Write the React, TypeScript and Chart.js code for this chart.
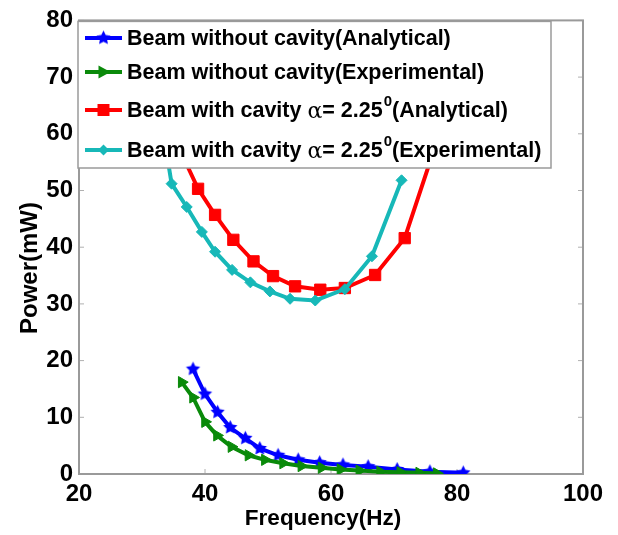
import React, { useEffect, useRef } from 'react';
import { Chart, registerables } from 'chart.js';

Chart.register(...registerables);

// ---- data ----
const seriesLabels = [
  'Beam without cavity(Analytical)',
  'Beam without cavity(Experimental)',
  'Beam with cavity α= 2.25⁰(Analytical)',
  'Beam with cavity α= 2.25⁰(Experimental)',
];
const seriesColors = ['#0000ff', '#0a8a0a', '#ff0000', '#17b8b8'];

const blueFreq = [38.1, 40.0, 42.0, 44.0, 46.4, 48.7, 51.6, 54.8, 58.2, 61.9, 65.9, 70.5, 75.7, 81.0];
const bluePower = [18.5, 14.1, 10.9, 8.2, 6.3, 4.5, 3.3, 2.5, 2.0, 1.6, 1.3, 0.8, 0.4, 0.2];

const greenFreq = [36.3, 38.1, 40.0, 41.9, 44.2, 46.9, 49.5, 52.4, 55.3, 58.5, 61.5, 64.5, 67.8, 71.0, 74.0, 76.8];
const greenPower = [16.2, 13.5, 9.2, 6.8, 4.8, 3.3, 2.5, 1.9, 1.4, 1.1, 0.8, 0.6, 0.4, 0.3, 0.2, 0.1];

const redFreq = [36.5, 38.9, 41.6, 44.5, 47.7, 50.8, 54.3, 58.3, 62.2, 67.0, 71.7, 76.0];
const redPower = [56, 50.3, 45.7, 41.3, 37.5, 34.9, 33.1, 32.5, 32.8, 35.1, 41.6, 56];

const cyanFreq = [34.0, 34.7, 37.1, 39.5, 41.6, 44.3, 47.2, 50.3, 53.5, 57.5, 62.2, 66.5, 71.2];
const cyanPower = [56, 51.2, 47.1, 42.7, 39.2, 36.0, 33.8, 32.2, 30.9, 30.6, 32.6, 38.4, 51.8];

const xTicks = [20, 40, 60, 80, 100];
const yTicks = [0, 10, 20, 30, 40, 50, 60, 70, 80];
const xTitle = 'Frequency(Hz)';
const yTitle = 'Power(mW)';

const FONT = '"Liberation Sans", Arial, sans-serif';

function zip(xs: number[], ys: number[]) {
  return xs.map((x, i) => ({ x, y: ys[i] }));
}

function makeStar(color: string, r: number): HTMLCanvasElement {
  const c = document.createElement('canvas');
  const s = Math.ceil(r * 2 + 2);
  c.width = s;
  c.height = s;
  const ctx = c.getContext('2d')!;
  ctx.beginPath();
  for (let i = 0; i < 10; i++) {
    const ang = -Math.PI / 2 + (i * Math.PI) / 5;
    const rr = i % 2 === 0 ? r : r * 0.5;
    ctx.lineTo(s / 2 + rr * Math.cos(ang), s / 2 + rr * Math.sin(ang));
  }
  ctx.closePath();
  ctx.fillStyle = color;
  ctx.fill();
  return c;
}

function drawMarker(ctx: CanvasRenderingContext2D, kind: number, x: number, y: number, color: string, star: HTMLCanvasElement) {
  ctx.save();
  ctx.fillStyle = color;
  ctx.beginPath();
  if (kind === 0) {
    ctx.drawImage(star, x - star.width / 2, y - star.height / 2);
  } else if (kind === 1) {
    ctx.moveTo(x + 7, y);
    ctx.lineTo(x - 5, y - 6.5);
    ctx.lineTo(x - 5, y + 6.5);
    ctx.closePath();
    ctx.fill();
  } else if (kind === 2) {
    ctx.rect(x - 6, y - 6, 12, 12);
    ctx.fill();
  } else {
    ctx.moveTo(x, y - 5.5);
    ctx.lineTo(x + 5.5, y);
    ctx.lineTo(x, y + 5.5);
    ctx.lineTo(x - 5.5, y);
    ctx.closePath();
    ctx.fill();
  }
  ctx.restore();
}

function drawRichLabel(ctx: CanvasRenderingContext2D, text: string, x: number, y: number) {
  const bold = 'bold 21.5px ' + FONT;
  let cx = x;
  let buf = '';
  const flush = () => {
    if (!buf) return;
    ctx.font = bold;
    ctx.fillText(buf, cx, y);
    cx += ctx.measureText(buf).width;
    buf = '';
  };
  for (const ch of text) {
    if (ch === 'α') {
      flush();
      ctx.font = '22px "DejaVu Serif", serif';
      ctx.fillText('α', cx, y + 1);
      cx += ctx.measureText('α').width;
    } else if (ch === '⁰') {
      flush();
      ctx.font = 'bold 15px ' + FONT;
      ctx.fillText('0', cx + 1, y - 9);
      cx += ctx.measureText('0').width + 1;
    } else {
      buf += ch;
    }
  }
  flush();
}

export default function App() {
  const ref = useRef<HTMLCanvasElement | null>(null);

  useEffect(() => {
    document.body.style.margin = '0';
    const canvas = ref.current!;
    const star = makeStar(seriesColors[0], 7.5);

    const framePlugin = {
      id: 'frame',
      beforeDatasetsDraw(chart: any) {
        const { ctx, chartArea: a } = chart;
        const xs = chart.scales.x;
        const ys = chart.scales.y;
        ctx.save();
        ctx.strokeStyle = '#b0b0b0';
        ctx.lineWidth = 1;
        ctx.beginPath();
        for (const v of xTicks) {
          const px = xs.getPixelForValue(v);
          ctx.moveTo(px, a.bottom);
          ctx.lineTo(px, a.bottom - 5);
          ctx.moveTo(px, a.top);
          ctx.lineTo(px, a.top + 5);
        }
        for (const v of yTicks) {
          const py = ys.getPixelForValue(v);
          ctx.moveTo(a.left, py);
          ctx.lineTo(a.left + 5, py);
          ctx.moveTo(a.right, py);
          ctx.lineTo(a.right - 5, py);
        }
        ctx.stroke();
        ctx.strokeStyle = '#9a9a9a';
        ctx.lineWidth = 2;
        ctx.strokeRect(a.left, a.top, a.right - a.left, a.bottom - a.top);
        ctx.restore();
      },
      afterDraw(chart: any) {
        const { ctx, chartArea: a } = chart;
        // axis titles
        ctx.save();
        ctx.font = 'bold 22.5px ' + FONT;
        ctx.fillStyle = '#000';
        ctx.textAlign = 'center';
        ctx.textBaseline = 'middle';
        ctx.fillText(xTitle, 323, 519);
        ctx.translate(30, 268);
        ctx.rotate(-Math.PI / 2);
        ctx.font = 'bold 24px ' + FONT;
        ctx.fillText(yTitle, 0, 0);
        ctx.restore();

        // legend box
        ctx.save();
        const lx = a.left - 1;
        const ly = a.top + 1;
        const lw = 551 - lx;
        const lh = 168 - ly;
        ctx.fillStyle = '#ffffff';
        ctx.fillRect(lx, ly, lw, lh);
        ctx.strokeStyle = '#9a9a9a';
        ctx.lineWidth = 1.5;
        ctx.strokeRect(lx, ly, lw, lh);
        const rowsY = [38, 72, 110, 150];
        seriesLabels.forEach((lab, i) => {
          const y = rowsY[i];
          ctx.strokeStyle = seriesColors[i];
          ctx.lineWidth = 4;
          ctx.beginPath();
          ctx.moveTo(85, y);
          ctx.lineTo(122, y);
          ctx.stroke();
          drawMarker(ctx, i, 103.5, y, seriesColors[i], star);
          ctx.fillStyle = '#000';
          ctx.textAlign = 'left';
          ctx.textBaseline = 'middle';
          drawRichLabel(ctx, lab, 127, y + 1);
        });
        ctx.restore();
      },
    };

    const chart = new Chart(canvas, {
      type: 'line',
      data: {
        datasets: [
          {
            label: seriesLabels[0],
            data: zip(blueFreq, bluePower),
            borderColor: seriesColors[0],
            backgroundColor: seriesColors[0],
            borderWidth: 4,
            pointStyle: star as any,
            pointRadius: 7,
            order: 3,
          },
          {
            label: seriesLabels[1],
            data: zip(greenFreq, greenPower),
            borderColor: seriesColors[1],
            backgroundColor: seriesColors[1],
            borderWidth: 4,
            pointStyle: 'triangle',
            pointRotation: 90,
            pointRadius: 6.5,
            pointBorderWidth: 1,
            order: 2,
          },
          {
            label: seriesLabels[2],
            data: zip(redFreq, redPower),
            borderColor: seriesColors[2],
            backgroundColor: seriesColors[2],
            borderWidth: 4,
            pointStyle: 'rect',
            pointRadius: 8,
            pointBorderWidth: 1,
            order: 1,
          },
          {
            label: seriesLabels[3],
            data: zip(cyanFreq, cyanPower),
            borderColor: seriesColors[3],
            backgroundColor: seriesColors[3],
            borderWidth: 4,
            pointStyle: 'rectRot',
            pointRadius: 5.5,
            pointBorderWidth: 1,
            order: 0,
          },
        ],
      },
      options: {
        animation: false,
        responsive: false,
        devicePixelRatio: 1,
        layout: { padding: { top: 17, right: 35, left: 0, bottom: 0 } },
        plugins: {
          legend: { display: false },
          tooltip: { enabled: false },
        },
        elements: { line: { tension: 0 } },
        scales: {
          x: {
            type: 'linear',
            min: 20,
            max: 100,
            afterBuildTicks: (axis: any) => {
              axis.ticks = xTicks.map((v) => ({ value: v }));
            },
            afterFit: (axis: any) => {
              axis.height = 61;
            },
            grid: { display: false, drawTicks: false },
            border: { display: false },
            ticks: {
              color: '#000',
              font: { family: FONT, size: 24, weight: 'bold' },
              padding: 6,
              maxRotation: 0,
            },
          },
          y: {
            type: 'linear',
            min: 0,
            max: 80,
            afterBuildTicks: (axis: any) => {
              axis.ticks = yTicks.map((v) => ({ value: v }));
            },
            afterFit: (axis: any) => {
              axis.width = 79;
            },
            grid: { display: false, drawTicks: false },
            border: { display: false },
            ticks: {
              color: '#000',
              font: { family: FONT, size: 24, weight: 'bold' },
              padding: 6,
            },
          },
        },
      },
      plugins: [framePlugin],
    } as any);

    return () => chart.destroy();
  }, []);

  return (
    <div style={{ width: 618, height: 535, background: '#fff' }}>
      <canvas ref={ref} width={618} height={535} style={{ display: 'block', width: 618, height: 535 }} />
    </div>
  );
}
